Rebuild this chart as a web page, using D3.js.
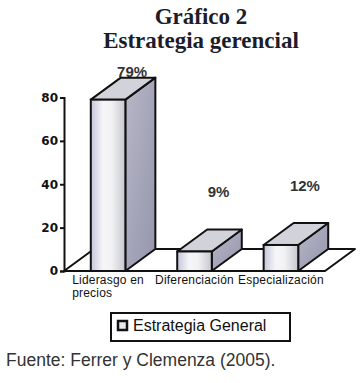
<!DOCTYPE html>
<html><head><meta charset="utf-8">
<script src="https://cdn.jsdelivr.net/npm/d3@7"></script>
<style>
html,body{margin:0;padding:0;background:#fff;}
svg{display:block;}
</style></head>
<body>
<script>
const titleLines = ["Gráfico 2", "Estrategia gerencial"];
const categories = [["Liderasgo en", "precios"], ["Diferenciación"], ["Especialización"]];
const values = [79, 9, 12];
const valueLabels = ["79%", "9%", "12%"];
const yTicks = [0, 20, 40, 60, 80];
const seriesName = "Estrategia General";
const sourceText = "Fuente: Ferrer y Clemenza (2005).";

const W = 361, H = 383;
const svg = d3.select("body").append("svg").attr("width", W).attr("height", H);
const defs = svg.append("defs");
const gf = defs.append("linearGradient").attr("id","front").attr("x1","0").attr("x2","1").attr("y1","0").attr("y2","0");
[["0%","#c4c6da"],["35%","#f6f6f8"],["60%","#f2f2f4"],["100%","#c6c6d0"]].forEach(s=>gf.append("stop").attr("offset",s[0]).attr("stop-color",s[1]));
const gs = defs.append("linearGradient").attr("id","side").attr("x1","0").attr("x2","1").attr("y1","0").attr("y2","1");
[["0%","#b8b8c8"],["100%","#9494ac"]].forEach(s=>gs.append("stop").attr("offset",s[0]).attr("stop-color",s[1]));

const x = d3.scaleBand().domain(d3.range(categories.length)).range([64, 325]).paddingInner(0.6).paddingOuter(0.31);
const y = d3.scaleLinear().domain([0, 80]).range([271, 97.5]);
const dx = 30, dy = -22;
const stroke = "#111";

// title
svg.append("g").selectAll("text").data(titleLines).join("text")
  .attr("x", 201).attr("y", (d,i)=>24 + i*24)
  .attr("text-anchor","middle")
  .style("font-family","'Liberation Serif','Times New Roman',serif")
  .style("font-weight","bold").style("font-size","23px").attr("fill","#1c1c2a")
  .text(d=>d);

// floor
const x0 = x.range()[0], x1 = x.range()[1], y0 = y(0);
svg.append("path")
  .attr("d", `M${x0},${y0} L${x1},${y0} L${x1+dx},${y0+dy} L${x0+dx},${y0+dy} Z`)
  .attr("fill","#fff").attr("stroke",stroke).attr("stroke-width",2).attr("stroke-linejoin","round");

// bars
const bars = svg.append("g").selectAll("g").data(values).join("g");
bars.each(function(v,i){
  const g = d3.select(this);
  const bx = x(i), bw = x.bandwidth(), top = y(v);
  g.append("path").attr("d",`M${bx+bw},${top} L${bx+bw+dx},${top+dy} L${bx+bw+dx},${y0+dy} L${bx+bw},${y0} Z`)
    .attr("fill","url(#side)").attr("stroke",stroke).attr("stroke-width",2).attr("stroke-linejoin","round");
  g.append("path").attr("d",`M${bx},${top} L${bx+dx},${top+dy} L${bx+bw+dx},${top+dy} L${bx+bw},${top} Z`)
    .attr("fill","#d2d2da").attr("stroke",stroke).attr("stroke-width",2).attr("stroke-linejoin","round");
  g.append("rect").attr("x",bx).attr("y",top).attr("width",bw).attr("height",y0-top)
    .attr("fill","url(#front)").attr("stroke",stroke).attr("stroke-width",2);
});

// value labels
svg.append("g").selectAll("text").data(values).join("text")
  .attr("x",(d,i)=>x(i)+x.bandwidth()/2+24)
  .attr("y",d=>Math.max(y(d)-54, y(80)-21))
  .attr("text-anchor","middle")
  .style("font-family","'Liberation Sans',Arial,sans-serif").style("font-weight","bold").style("font-size","15px")
  .attr("fill","#333")
  .text((d,i)=>valueLabels[i]);

// y axis
const ax = svg.append("g").attr("transform",`translate(${x0},0)`)
  .call(d3.axisLeft(y).tickValues(yTicks).tickSize(4).tickPadding(2).tickFormat(d3.format("d")));
ax.select(".domain").attr("stroke",stroke).attr("stroke-width",2);
ax.selectAll(".tick line").attr("stroke",stroke).attr("stroke-width",2);
ax.selectAll(".tick text").style("font-family","'DejaVu Sans',Verdana,sans-serif").style("font-weight","bold").style("font-size","12px").attr("fill","#111");

// category labels
const cl = svg.append("g").selectAll("text").data(categories).join("text")
  .style("font-family","'Liberation Sans',Arial,sans-serif").style("font-size","12px")
  .style("letter-spacing","0.2px").attr("fill","#111")
  .attr("y",284);
cl.each(function(lines,i){
  const t = d3.select(this);
  const cx = x(i)+x.bandwidth()/2;
  const first = t.append("tspan").text(lines[0]);
  const w = this.getComputedTextLength();
  const sx = cx - w/2;
  first.attr("x", sx);
  lines.slice(1).forEach((ln,j)=>t.append("tspan").attr("x",sx).attr("dy",13).text(ln));
});

// legend
const lg = svg.append("g");
lg.append("rect").attr("x",111).attr("y",313).attr("width",179).attr("height",28)
  .attr("fill","#fff").attr("stroke",stroke).attr("stroke-width",2);
lg.append("rect").attr("x",118).attr("y",321).attr("width",9).attr("height",9)
  .attr("fill","#e8e8ee").attr("stroke",stroke).attr("stroke-width",2.5);
lg.append("text").attr("x",133).attr("y",331)
  .style("font-family","'Liberation Sans',Arial,sans-serif").style("font-size","16px").attr("fill","#111")
  .text(seriesName);

// source
svg.append("text").attr("x",6).attr("y",366)
  .style("font-family","'Liberation Sans',Arial,sans-serif").style("font-size","17.5px").attr("fill","#333")
  .text(sourceText);
</script>
</body></html>
